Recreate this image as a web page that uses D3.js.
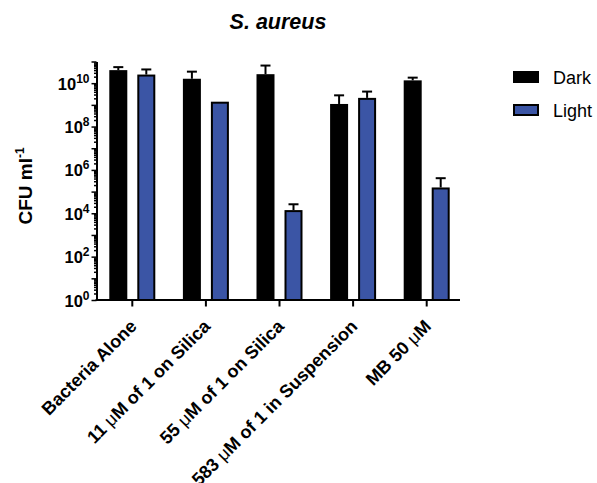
<!DOCTYPE html>
<html>
<head>
<meta charset="utf-8">
<script src="https://cdn.jsdelivr.net/npm/d3@7/dist/d3.min.js"></script>
<style>
  html, body { margin: 0; padding: 0; background: #fff; }
  svg { display: block; font-family: "Liberation Sans", Arial, Helvetica, sans-serif; }
</style>
</head>
<body>
<svg id="chart" width="597" height="483"></svg>
<script>
// ---- data ----
const categories = ["Bacteria Alone", "11 \u03BCM of 1 on Silica", "55 \u03BCM of 1 on Silica", "583 \u03BCM of 1 in Suspension", "MB 50 \u03BCM"];
const seriesNames = ["Dark", "Light"];
const darkValues = [4.0e10, 1.6e10, 2.6e10, 1.1e9, 1.35e10];
const darkSD     = [1.5e10, 1.8e10, 3.9e10, 1.65e9, 4.5e9];
const lightValues = [2.5e10, 1.4e9, 1.4e4, 2.1e9, 1.55e5];
const lightSD     = [1.8e10, 0, 1.2e4, 2.0e9, 2.6e5];
const yTickExponents = [0, 2, 4, 6, 8, 10];
const titleText = "S. aureus";
const yTitle = "CFU ml";
const yTitleSup = "-1";

const colors = { Dark: "#000000", Light: "#3b55a5" };

const svg = d3.select("#chart");
const plotLeft = 96.5, plotRight = 460, plotBottom = 300, plotTop = 61.5;

const x = d3.scaleBand().domain(categories).range([95.5, 463.5]).paddingInner(0).paddingOuter(0);
const xSub = d3.scaleBand().domain(seriesNames).range([-23, 23]).paddingInner(10 / 28).paddingOuter(0);
const y = d3.scaleLog().domain([1, 1e11]).range([plotBottom, plotTop]);

const rows = [];
categories.forEach((c, i) => {
  rows.push({ cat: c, series: "Dark", v: darkValues[i], sd: darkSD[i] });
  rows.push({ cat: c, series: "Light", v: lightValues[i], sd: lightSD[i] });
});

// bars
const sw = 2;
svg.append("g").selectAll("rect").data(rows).join("rect")
  .attr("x", d => x(d.cat) + x.bandwidth() / 2 + xSub(d.series) + sw / 2)
  .attr("width", xSub.bandwidth() - sw)
  .attr("y", d => y(d.v) + sw / 2)
  .attr("height", d => y(1) - y(d.v) - sw / 2)
  .attr("fill", d => colors[d.series])
  .attr("stroke", "#000")
  .attr("stroke-width", sw);

// error bars
const eb = svg.append("g").attr("stroke", "#000").attr("stroke-width", 2);
rows.filter(d => d.sd > 0).forEach(d => {
  const cx = x(d.cat) + x.bandwidth() / 2 + xSub(d.series) + xSub.bandwidth() / 2;
  const y0 = y(d.v), y1 = y(d.v + d.sd);
  eb.append("line").attr("x1", cx).attr("x2", cx).attr("y1", y0).attr("y2", y1);
  eb.append("line").attr("x1", cx - 5).attr("x2", cx + 5).attr("y1", y1).attr("y2", y1);
});

// y axis
const decades = d3.range(0, 12).map(e => Math.pow(10, e));
const minors = [];
for (let e = 0; e < 11; e++) for (let m = 2; m <= 9; m++) minors.push(m * Math.pow(10, e));

const yAxisMajor = svg.append("g").attr("transform", `translate(${plotLeft},0)`)
  .call(d3.axisLeft(y).tickValues(decades).tickSize(5).tickSizeOuter(0).tickFormat(""));
const yAxisMinor = svg.append("g").attr("transform", `translate(${plotLeft},0)`)
  .call(d3.axisLeft(y).tickValues(minors).tickSize(2.5).tickSizeOuter(0).tickFormat(""));
yAxisMinor.select(".domain").remove();
[yAxisMajor, yAxisMinor].forEach(g => {
  g.selectAll("line").attr("stroke", "#000").attr("stroke-width", 1.5);
  g.select(".domain").attr("stroke", "#000").attr("stroke-width", 2);
});

// y tick labels with superscripts
const yl = svg.append("g");
yTickExponents.forEach(e => {
  const t = yl.append("text")
    .attr("x", 89.5)
    .attr("y", y(Math.pow(10, e)) + 6.5)
    .attr("text-anchor", "end")
    .attr("font-weight", "bold")
    .attr("font-size", 16.5)
    .attr("fill", "#000");
  t.append("tspan").text("10");
  t.append("tspan").attr("dy", -7).attr("font-size", 12).text(String(e));
});

// x axis
svg.append("line").attr("x1", plotLeft - 1).attr("x2", plotRight).attr("y1", plotBottom).attr("y2", plotBottom)
  .attr("stroke", "#000").attr("stroke-width", 2);
const xAxis = svg.append("g").attr("transform", `translate(0,${plotBottom})`)
  .call(d3.axisBottom(x).tickSize(6.5).tickSizeOuter(0).tickFormat(""));
xAxis.select(".domain").remove();
xAxis.selectAll("line").attr("stroke", "#000").attr("stroke-width", 2);

// x labels rotated
const xl = svg.append("g");
categories.forEach(c => {
  const cx = x(c) + x.bandwidth() / 2;
  const t = xl.append("text")
    .attr("transform", `translate(${cx + 1},${plotBottom + 23}) rotate(-45)`)
    .attr("text-anchor", "end")
    .attr("dy", "0.35em")
    .attr("font-weight", "bold")
    .attr("font-size", 18)
    .attr("fill", "#000");
  const parts = c.split("\u03BC");
  parts.forEach((p, i) => {
    if (i > 0) t.append("tspan").attr("font-weight", "normal").text("\u03BC");
    t.append("tspan").text(p);
  });
});

// y title
const yt = svg.append("text")
  .attr("transform", `translate(32,186) rotate(-90)`)
  .attr("text-anchor", "middle")
  .attr("font-weight", "bold")
  .attr("font-size", 19)
  .attr("fill", "#000");
yt.append("tspan").text(yTitle);
yt.append("tspan").attr("dy", -8).attr("font-size", 12).text(yTitleSup);

// title
svg.append("text")
  .attr("x", 278).attr("y", 29)
  .attr("text-anchor", "middle")
  .attr("font-weight", "bold")
  .attr("font-style", "italic")
  .attr("font-size", 21.5)
  .attr("fill", "#000")
  .text(titleText);

// legend
const legendY = [72, 105];
const lg = svg.append("g");
seriesNames.forEach((s, i) => {
  lg.append("rect")
    .attr("x", 514).attr("y", legendY[i])
    .attr("width", 24).attr("height", 10)
    .attr("fill", colors[s]).attr("stroke", "#000").attr("stroke-width", 2);
  lg.append("text")
    .attr("x", 553).attr("y", legendY[i] + 11.5)
    .attr("font-size", 18)
    .attr("fill", "#000")
    .text(s);
});
</script>
</body>
</html>
